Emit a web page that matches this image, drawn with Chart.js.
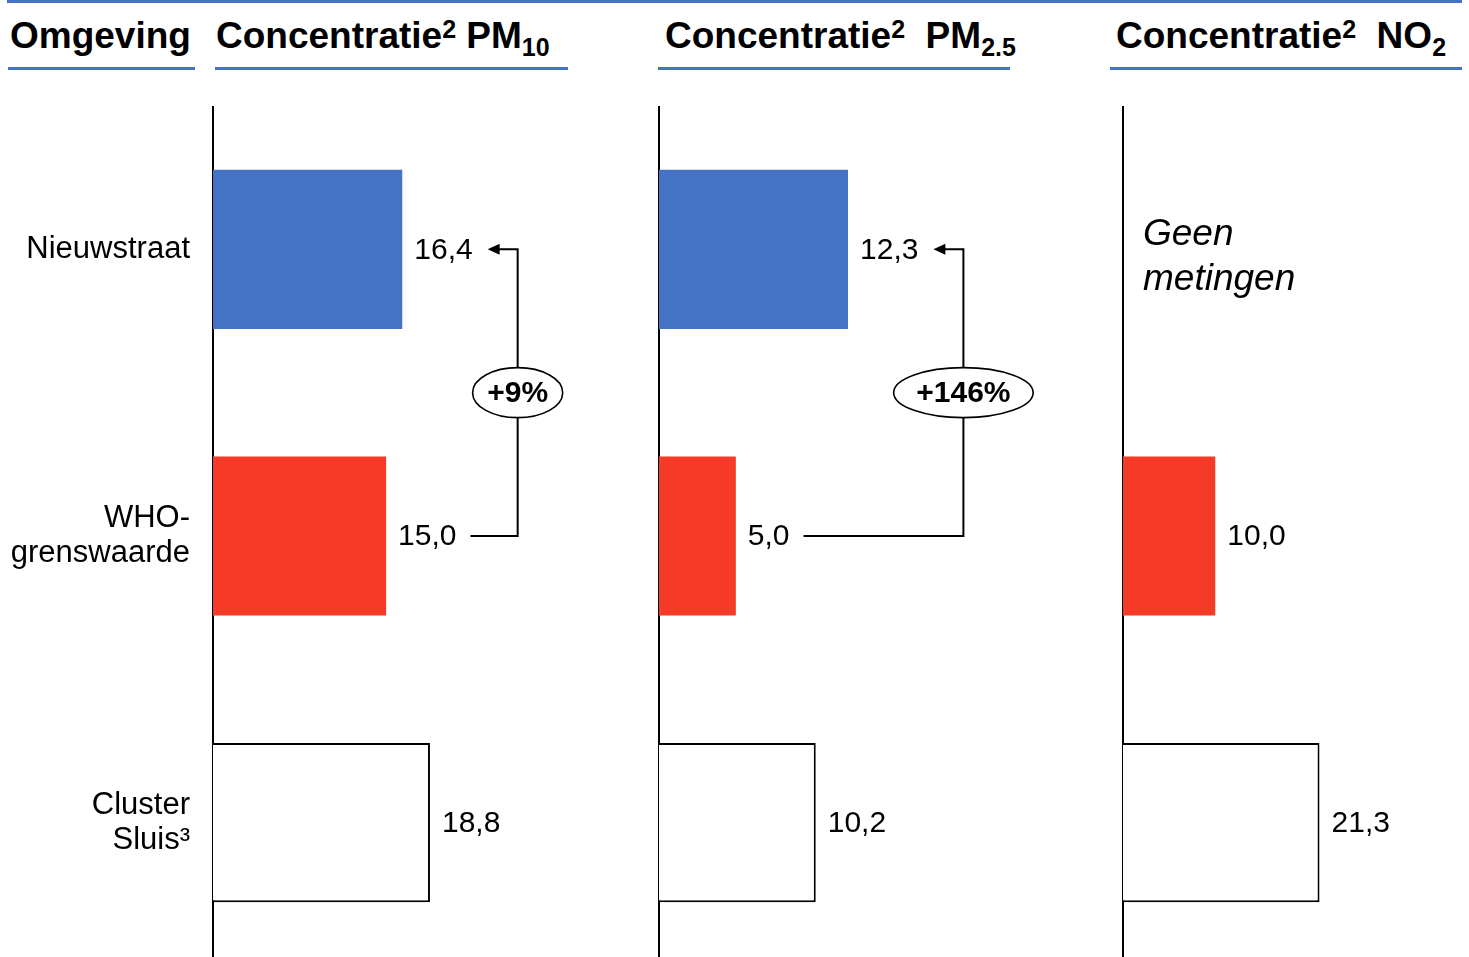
<!DOCTYPE html>
<html>
<head>
<meta charset="utf-8">
<script src="https://cdn.jsdelivr.net/npm/chart.js@4.4.1/dist/chart.umd.min.js"></script>
<style>
  html, body { margin: 0; padding: 0; background: #fff; }
  body { width: 1469px; height: 957px; overflow: hidden; position: relative;
         font-family: "Liberation Sans", Arial, Helvetica, sans-serif; color: #000; }
  .rule { position: absolute; background: #4472C4; height: 3px; }
  .hdr { position: absolute; top: 17px; font-weight: bold; font-size: 37px; line-height: 37px;
         white-space: pre; }
  .hdr .sup { font-size: 25px; position: relative; top: -10px; }
  .hdr .sub { font-size: 25px; position: relative; top: 8px; }
  canvas { position: absolute; top: 106px; }
</style>
</head>
<body>
  <div class="rule" style="left:7px; top:0; width:1455px;"></div>

  <div class="hdr" style="left:10px;">Omgeving</div>
  <div class="hdr" style="left:216px;">Concentratie<span class="sup">2</span> PM<span class="sub">10</span></div>
  <div class="hdr" style="left:665px;">Concentratie<span class="sup">2</span>  PM<span class="sub">2.5</span></div>
  <div class="hdr" style="left:1116px;">Concentratie<span class="sup">2</span>  NO<span class="sub">2</span></div>

  <div class="rule" style="left:8px; top:67px; width:187px;"></div>
  <div class="rule" style="left:215px; top:67px; width:353px;"></div>
  <div class="rule" style="left:658px; top:67px; width:352px;"></div>
  <div class="rule" style="left:1110px; top:67px; width:352px;"></div>

  <canvas id="pm10" width="640" height="860" style="left:0px;"></canvas>
  <canvas id="pm25" width="480" height="860" style="left:640px;"></canvas>
  <canvas id="no2" width="369" height="860" style="left:1100px;"></canvas>

<script>
// Locations (one row per location, multi-line labels as arrays)
const categories = [['Nieuwstraat'], ['WHO-', 'grenswaarde'], ['Cluster', 'Sluis\u00B3']];

// Concentrations per pollutant, same order as the categories
const pm10Values = [16.4, 15.0, 18.8];
const pm25Values = [12.3, 5.0, 10.2];
const no2Values  = [null, 10.0, 21.3];   // no measurement at Nieuwstraat

// Text shown in place of a missing bar
const noDataText = ['Geen', 'metingen'];

// Bar styling per row
const barFills   = ['#4472C4', '#F53B27', '#FFFFFF'];
const barStrokes = ['rgba(0,0,0,0)', 'rgba(0,0,0,0)', '#000000'];
const barStrokeW = [0, 0, 2];

const FONT = '"Liberation Sans", Arial, Helvetica, sans-serif';
const LABEL_GAP = 12;

const fmt = v => v.toFixed(1).replace('.', ',');

// Value labels, the "geen metingen" note and the percentage comparison bracket
const annotate = {
  id: 'annotate',
  afterDatasetsDraw(chart, args, opts) {
    const { ctx, scales: { x, y } } = chart;
    const data = chart.data.datasets[0].data;
    ctx.save();
    ctx.fillStyle = '#000';
    ctx.strokeStyle = '#000';
    ctx.textBaseline = 'middle';
    ctx.textAlign = 'left';
    ctx.font = '30px ' + FONT;

    const ends = [];
    data.forEach((v, i) => {
      if (v == null) return;
      const tx = x.getPixelForValue(v) + LABEL_GAP;
      const txt = fmt(v);
      ctx.fillText(txt, tx, y.getPixelForValue(i) + 1);
      ends[i] = tx + ctx.measureText(txt).width;
    });

    if (opts.note) {
      ctx.font = 'italic 37px ' + FONT;
      const yc = y.getPixelForValue(opts.note.index) + 8;
      const lh = 45;
      opts.note.lines.forEach((line, k) => {
        ctx.fillText(line, chart.chartArea.left + 20, yc + (k - (opts.note.lines.length - 1) / 2) * lh);
      });
    }

    if (opts.compare) {
      const { from, to } = opts.compare;
      const yFrom = y.getPixelForValue(from);
      const yTo = y.getPixelForValue(to);
      const cx = Math.max(ends[from], ends[to]) + 45;
      const tip = ends[to] + 15;

      ctx.lineWidth = 2;
      ctx.beginPath();
      ctx.moveTo(ends[from] + 14, yFrom);
      ctx.lineTo(cx, yFrom);
      ctx.lineTo(cx, yTo);
      ctx.lineTo(tip + 10, yTo);
      ctx.stroke();

      ctx.beginPath();
      ctx.moveTo(tip, yTo);
      ctx.lineTo(tip + 12, yTo - 5.5);
      ctx.lineTo(tip + 12, yTo + 5.5);
      ctx.closePath();
      ctx.fill();

      const pct = Math.round((data[to] - data[from]) / data[from] * 100);
      const label = (pct >= 0 ? '+' : '') + pct + '%';
      ctx.font = 'bold 30px ' + FONT;
      const tw = ctx.measureText(label).width;
      const ym = (yFrom + yTo) / 2;
      ctx.beginPath();
      ctx.ellipse(cx, ym, tw * 0.74, 25, 0, 0, Math.PI * 2);
      ctx.fillStyle = '#fff';
      ctx.fill();
      ctx.lineWidth = 1.6;
      ctx.stroke();
      ctx.fillStyle = '#000';
      ctx.textAlign = 'center';
      ctx.fillText(label, cx, ym + 1);
    }
    ctx.restore();
  }
};

function makePanel(id, values, xMax, axisWidth, showLabels, annot) {
  return new Chart(document.getElementById(id), {
    type: 'bar',
    data: {
      labels: categories,
      datasets: [{
        data: values,
        backgroundColor: barFills,
        borderColor: barStrokes,
        borderWidth: barStrokeW,
        borderSkipped: 'start',
        barPercentage: 0.555,
        categoryPercentage: 1
      }]
    },
    options: {
      indexAxis: 'y',
      responsive: false,
      animation: false,
      events: [],
      layout: { padding: 0 },
      plugins: {
        legend: { display: false },
        tooltip: { enabled: false },
        annotate: annot
      },
      scales: {
        x: { display: false, min: 0, max: xMax },
        y: {
          grid: { display: false, drawTicks: false },
          border: { display: true, color: '#000', width: 2 },
          ticks: {
            display: showLabels,
            color: '#000',
            padding: 23,
            font: { family: FONT, size: 31, lineHeight: 1.13 }
          },
          afterFit(scale) {
            scale.width = axisWidth;
            scale.paddingTop = 0;
            scale.paddingBottom = 0;
          }
        }
      }
    },
    plugins: [annotate]
  });
}

makePanel('pm10', pm10Values, 37, 213, true, { compare: { from: 1, to: 0 } });
makePanel('pm25', pm25Values, 30, 19, false, { compare: { from: 1, to: 0 } });
makePanel('no2', no2Values, 37.5, 23, false, { note: { index: 0, lines: noDataText } });
</script>
</body>
</html>
